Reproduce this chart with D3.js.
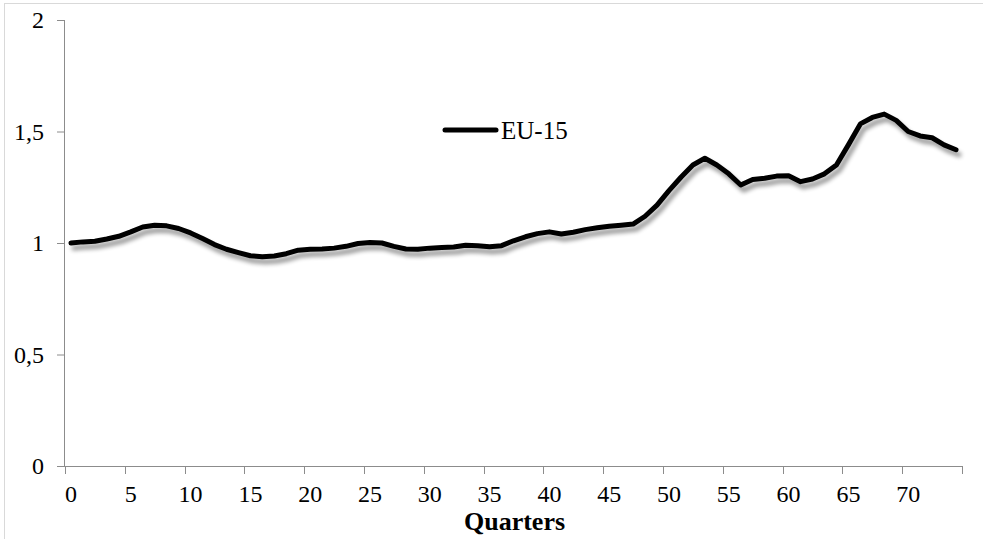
<!DOCTYPE html>
<html>
<head>
<meta charset="utf-8">
<script src="https://cdn.jsdelivr.net/npm/d3@7"></script>
</head>
<body style="margin:0;background:#fff">
<svg id="chart" width="983" height="539" style="display:block"></svg>
<script>
const quarters = d3.range(0, 75);
const eu15 = [
  1.000, 1.005, 1.008, 1.018, 1.030, 1.050, 1.072, 1.080, 1.077, 1.065,
  1.045, 1.020, 0.993, 0.972, 0.957, 0.943, 0.938, 0.942, 0.952, 0.968,
  0.972, 0.973, 0.977, 0.985, 0.998, 1.002, 1.000, 0.985, 0.973, 0.972,
  0.977, 0.980, 0.982, 0.990, 0.988, 0.983, 0.988, 1.010, 1.028, 1.042,
  1.050, 1.040, 1.048, 1.060, 1.068, 1.075, 1.080, 1.085, 1.120, 1.170,
  1.235, 1.295, 1.350, 1.380, 1.350, 1.310, 1.260, 1.285, 1.290, 1.300,
  1.302, 1.275, 1.287, 1.310, 1.350, 1.440, 1.534, 1.563, 1.578, 1.550,
  1.500, 1.480, 1.472, 1.440, 1.418
];
const xTickLabels = [0, 5, 10, 15, 20, 25, 30, 35, 40, 45, 50, 55, 60, 65, 70];
const yTicks = [0, 0.5, 1, 1.5, 2];
const seriesName = "EU-15";
const xTitle = "Quarters";

const FONT = '"Liberation Serif", "Times New Roman", serif';
const svg = d3.select("#chart");
const mLeft = 65, mRight = 962, mTop = 20, mBottom = 466;

// outer frame
svg.append("rect").attr("x", 4.5).attr("y", 3.5).attr("width", 1000).attr("height", 1000)
  .attr("fill", "none").attr("stroke", "#d9d9d9").attr("stroke-width", 1);

const x = d3.scaleBand().domain(quarters).range([mLeft, mRight]).padding(0);
const bw = x.bandwidth();
const y = d3.scaleLinear().domain([0, 2]).range([mBottom, mTop]);

const axisColor = "#8c8c8c";

// Y axis
const yAxis = svg.append("g").attr("transform", `translate(${mLeft},0)`)
  .call(d3.axisLeft(y).tickValues(yTicks).tickSize(8).tickPadding(13)
    .tickFormat(d => String(d).replace(".", ",")));
yAxis.select(".domain").attr("stroke", axisColor).attr("d", `M-0.5,${mTop}V${mBottom}`);
yAxis.selectAll(".tick line").attr("stroke", axisColor);
yAxis.selectAll(".tick text").attr("fill", "#000")
  .style("font-family", FONT).style("font-size", "24px");

// X axis: labels at category centres, tick marks at category boundaries
const xAxis = svg.append("g").attr("transform", `translate(0,${mBottom})`)
  .call(d3.axisBottom(x).tickValues(xTickLabels).tickSize(0).tickPadding(19));
xAxis.select(".domain").attr("stroke", axisColor).attr("d", `M${mLeft},0.5H${mRight}`);
xAxis.selectAll(".tick text").attr("fill", "#000")
  .style("font-family", FONT).style("font-size", "24px");
const tickPos = xTickLabels.map(q => x(q)).concat([mRight]);
xAxis.selectAll(".xtick").data(tickPos).enter().append("line")
  .attr("class", "xtick")
  .attr("x1", d => Math.round(d) + 0.5).attr("x2", d => Math.round(d) + 0.5)
  .attr("y1", 0).attr("y2", 8).attr("stroke", axisColor);

// x title
svg.append("text").attr("x", (mLeft + mRight) / 2 + 1).attr("y", 530)
  .attr("text-anchor", "middle")
  .style("font-family", FONT).style("font-weight", "bold").style("font-size", "26px")
  .text(xTitle);

// shadow filter
const defs = svg.append("defs");
const f = defs.append("filter").attr("id", "shadow").attr("x", "-10%").attr("y", "-50%")
  .attr("width", "120%").attr("height", "200%");
f.append("feGaussianBlur").attr("in", "SourceAlpha").attr("stdDeviation", 2.2).attr("result", "b");
f.append("feOffset").attr("in", "b").attr("dx", 3).attr("dy", 5).attr("result", "o");
f.append("feComponentTransfer").attr("in", "o").attr("result", "s")
  .append("feFuncA").attr("type", "linear").attr("slope", 0.4);
const mg = f.append("feMerge");
mg.append("feMergeNode").attr("in", "s");
mg.append("feMergeNode").attr("in", "SourceGraphic");

const line = d3.line()
  .x((d, i) => x(quarters[i]) + bw / 2)
  .y(d => y(d))
  .curve(d3.curveLinear);

svg.append("path").datum(eu15)
  .attr("d", line)
  .attr("fill", "none").attr("stroke", "#000").attr("stroke-width", 5)
  .attr("stroke-linejoin", "round").attr("stroke-linecap", "round")
  .attr("filter", "url(#shadow)");

// legend
svg.append("line").attr("x1", 445).attr("x2", 496).attr("y1", 130).attr("y2", 130)
  .attr("stroke", "#000").attr("stroke-width", 5).attr("stroke-linecap", "round");
svg.append("text").attr("x", 501).attr("y", 139)
  .style("font-family", FONT).style("font-size", "25px").text(seriesName);
</script>
</body>
</html>
